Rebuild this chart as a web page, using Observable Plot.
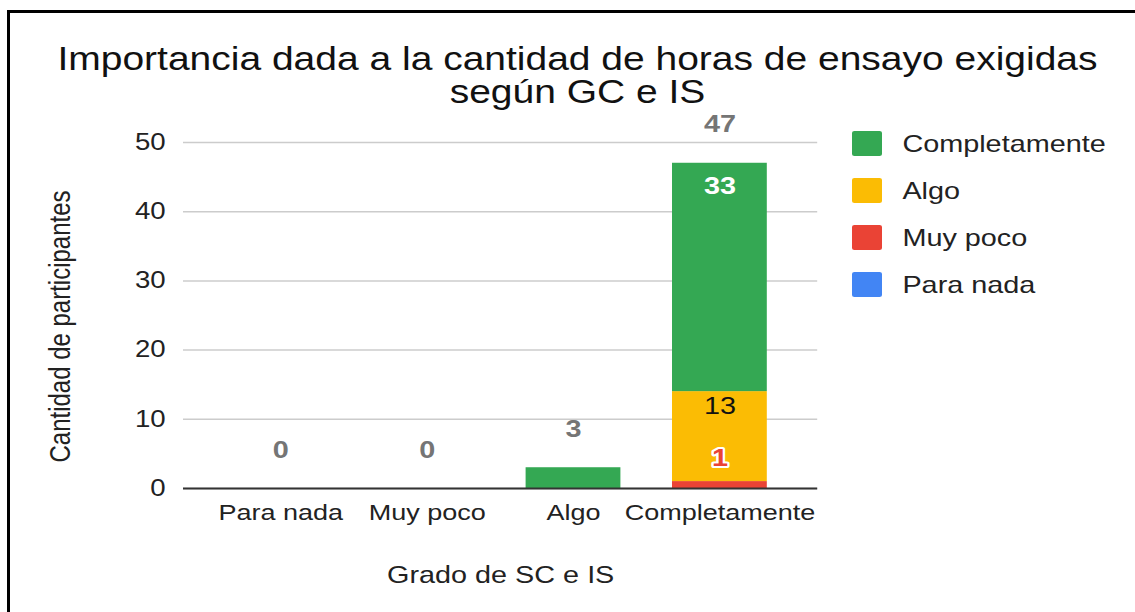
<!DOCTYPE html>
<html>
<head>
<meta charset="utf-8">
<script src="https://cdn.jsdelivr.net/npm/d3@7"></script>
<script src="https://cdn.jsdelivr.net/npm/@observablehq/plot@0.6"></script>
<style>
  html, body { margin: 0; padding: 0; background: #fff; overflow: hidden; width: 1135px; height: 612px; }
  #frame { position: absolute; left: 7px; top: 10px; width: 2000px; height: 2000px; border-left: 3px solid #000; border-top: 3px solid #000; }
  #wrap { position: absolute; left: 0; top: 0; width: 946px; height: 612px; transform: scale(1.2, 1); transform-origin: 0 0; font-family: "Liberation Sans", Arial, sans-serif; }
  #legend { position: absolute; left: 710px; top: 120px; }
  .row { display: flex; align-items: center; height: 47px; font-size: 24px; color: #222; }
  .sw { width: 25px; height: 25px; border-radius: 2px; margin-right: 17px; }
</style>
</head>
<body>
<div id="frame"></div>
<div id="wrap"><div id="chart"></div><div id="legend"></div></div>
<script>
// ---- data ----
const categories = ["Para nada", "Muy poco", "Algo", "Completamente"];
const seriesNames = ["Para nada", "Muy poco", "Algo", "Completamente"]; // bottom -> top
const seriesColors = ["#4285f4", "#ea4335", "#fbbc04", "#34a853"];
const paraNada      = [0, 0, 0, 0];
const muyPoco       = [0, 0, 0, 1];
const algo          = [0, 0, 0, 13];
const completamente = [0, 0, 3, 33];
const yTicks = [0, 10, 20, 30, 40, 50];
const titleText = "Importancia dada a la cantidad de horas de ensayo exigidas\nsegún GC e IS";
const xTitle = "Grado de SC e IS";
const yTitle = "Cantidad de participantes";
const legendOrder = ["Completamente", "Algo", "Muy poco", "Para nada"];

const seriesValues = [paraNada, muyPoco, algo, completamente];
const long = [];
seriesNames.forEach((s, si) => categories.forEach((c, ci) => long.push({cat: c, series: s, value: seriesValues[si][ci]})));

const font = "\"Liberation Sans\", Arial, sans-serif";

const chart = Plot.plot({
  width: 946,
  height: 612,
  marginLeft: 152.5,
  marginRight: 265,
  marginTop: 142,
  marginBottom: 124,
  style: {fontFamily: font, color: "#222", background: "transparent", overflow: "visible"},
  x: {domain: categories, paddingInner: 0.35, paddingOuter: 0.337, label: null},
  y: {domain: [0, 50], label: null},
  color: {domain: seriesNames, range: seriesColors},
  marks: [
    Plot.gridY(yTicks, {stroke: "#cccccc", strokeOpacity: 1, strokeWidth: 1.5}),
    Plot.barY(long, {x: "cat", y: "value", fill: "series", z: "series"}),
    Plot.ruleY([0], {stroke: "#333", strokeWidth: 2}),
    Plot.axisY({ticks: yTicks, tickSize: 0, tickPadding: 15, fontSize: 23, label: null}),
    Plot.axisX({tickSize: 0, tickPadding: 16, fontSize: 22.5, label: null}),
    // totals
    Plot.text(long, Plot.groupX({y: "sum", text: "sum"}, {x: "cat", y: "value", text: "value", dy: -38.5, fill: "#757575", fontWeight: "bold", fontSize: 24})),
    // inside labels
    Plot.text(long, Plot.stackY2({x: "cat", y: "value", z: "series",
      text: d => d.series === "Completamente" && d.value > 5 ? String(d.value) : null,
      fill: "white", fontWeight: "bold", fontSize: 24, dy: 23})),
    Plot.text(long, Plot.stackY2({x: "cat", y: "value", z: "series",
      text: d => d.series === "Algo" && d.value > 5 ? String(d.value) : null,
      fill: "#111", fontSize: 24, dy: 14.5})),
    Plot.text(long, Plot.stackY2({x: "cat", y: "value", z: "series",
      text: d => d.series === "Muy poco" && d.value > 0 ? String(d.value) : null,
      fill: "#ea4335", stroke: "white", strokeWidth: 4, paintOrder: "stroke", fontWeight: "bold", fontSize: 24, dy: -23})),
    // titles
    Plot.text([titleText], {frameAnchor: "top", dx: 64, dy: -67, fontSize: 32.5, lineHeight: 1.02, fill: "#111", lineAnchor: "middle"}),
    Plot.text([xTitle], {frameAnchor: "bottom", dy: 87, fontSize: 24, fill: "#222", lineAnchor: "middle"}),
    Plot.text([yTitle], {frameAnchor: "left", dx: -102, dy: 11, rotate: -90, fontSize: 24, fill: "#222", lineAnchor: "middle", textAnchor: "middle"})
  ]
});
document.getElementById("chart").appendChild(chart);

const legend = document.getElementById("legend");
legendOrder.forEach(name => {
  const row = document.createElement("div");
  row.className = "row";
  const sw = document.createElement("div");
  sw.className = "sw";
  sw.style.background = seriesColors[seriesNames.indexOf(name)];
  const label = document.createElement("span");
  label.textContent = name;
  row.appendChild(sw);
  row.appendChild(label);
  legend.appendChild(row);
});
</script>
</body>
</html>
